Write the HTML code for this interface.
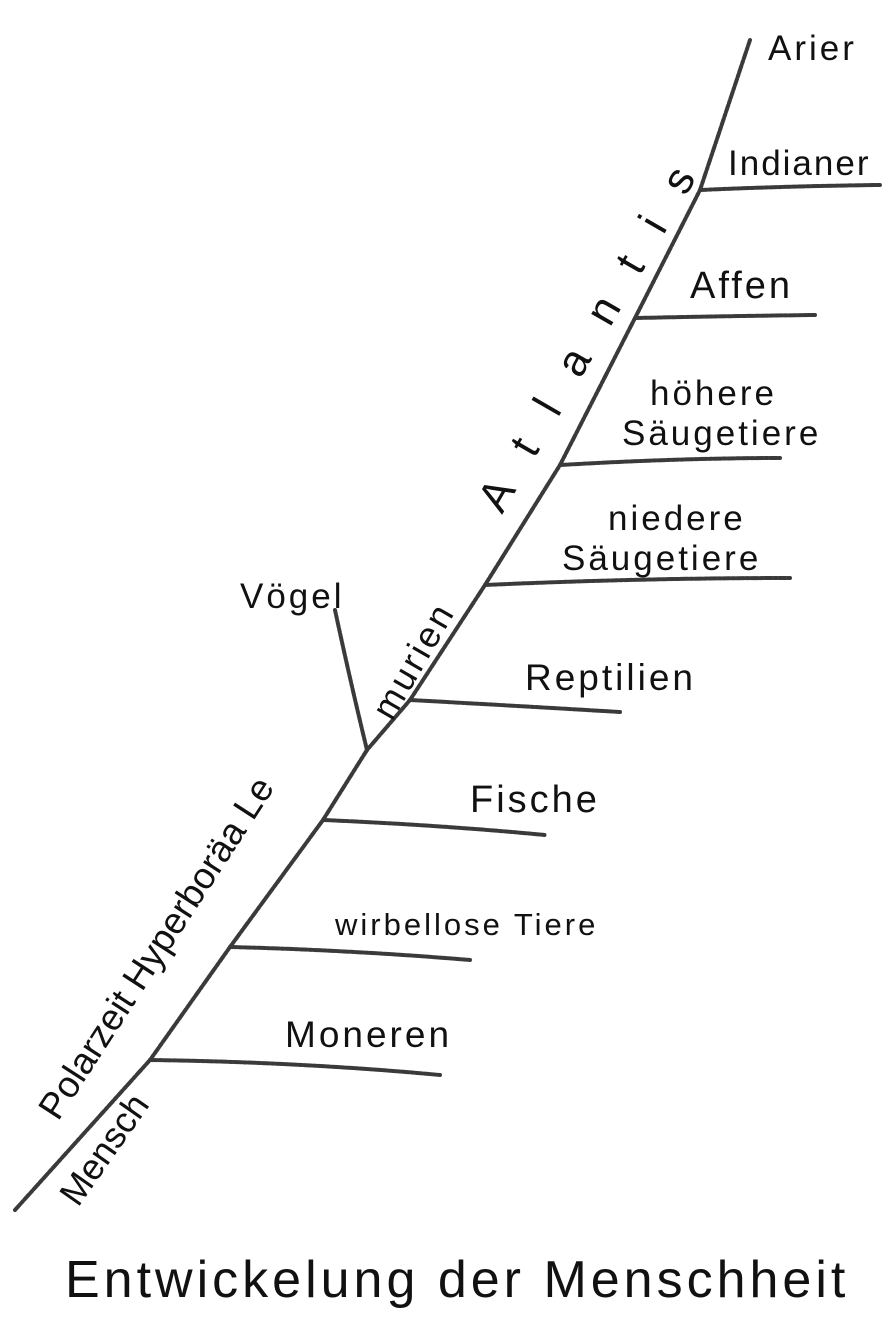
<!DOCTYPE html>
<html><head><meta charset="utf-8"><style>
html,body{margin:0;padding:0;background:#fff;}
svg{display:block;}
text{font-family:"Liberation Sans",sans-serif;fill:#111;}
</style></head><body>
<svg width="891" height="1325" viewBox="0 0 891 1325" xmlns="http://www.w3.org/2000/svg">
<g stroke="#3a3a3a" stroke-width="4" stroke-linecap="round" stroke-linejoin="round" fill="none" stroke-dasharray="7 2 3 2">
<path d="M15 1210 L150 1060 L230 947 L323 820 L367 750 L410 700 L485 585 L560 465 L635 318 L700 190 L750 40"/>
<path d="M150 1060 Q300 1062 440 1075"/>
<path d="M230 947 Q350 950 470 960"/>
<path d="M323 820 Q440 825 545 835"/>
<path d="M410 700 Q520 706 620 712"/>
<path d="M485 585 Q640 578 790 578"/>
<path d="M560 465 Q680 458 780 458"/>
<path d="M635 318 Q730 316 815 315"/>
<path d="M700 190 Q790 186 880 185"/>
<path d="M367 750 Q350 680 335 610"/>
</g>
<g font-size="35" letter-spacing="3">
<text x="768" y="60">Arier</text>
<text x="728" y="175" letter-spacing="2">Indianer</text>
<text x="690" y="298" font-size="38">Affen</text>
<text x="650" y="405">höhere</text>
<text x="622" y="445">Säugetiere</text>
<text x="608" y="530">niedere</text>
<text x="562" y="570">Säugetiere</text>
<text x="240" y="608">Vögel</text>
<text x="525" y="690" font-size="37">Reptilien</text>
<text x="470" y="812" font-size="38">Fische</text>
<text x="335" y="935" font-size="31">wirbellose Tiere</text>
<text x="285" y="1047" font-size="37">Moneren</text>
</g>
<g font-size="36">
<text transform="translate(78,1208) rotate(-55)">Mensch</text>
<text transform="translate(58,1122) rotate(-57)" font-size="37">Polarzeit Hyperboräa Le</text>
<text transform="translate(392,722) rotate(-60)" letter-spacing="3">murien</text>
<text transform="translate(502,515) rotate(-60)" letter-spacing="35" font-size="44">Atlantis</text>
</g>
<text x="65" y="1297" font-size="52" letter-spacing="4">Entwickelung der Menschheit</text>
</svg>
</body></html>
